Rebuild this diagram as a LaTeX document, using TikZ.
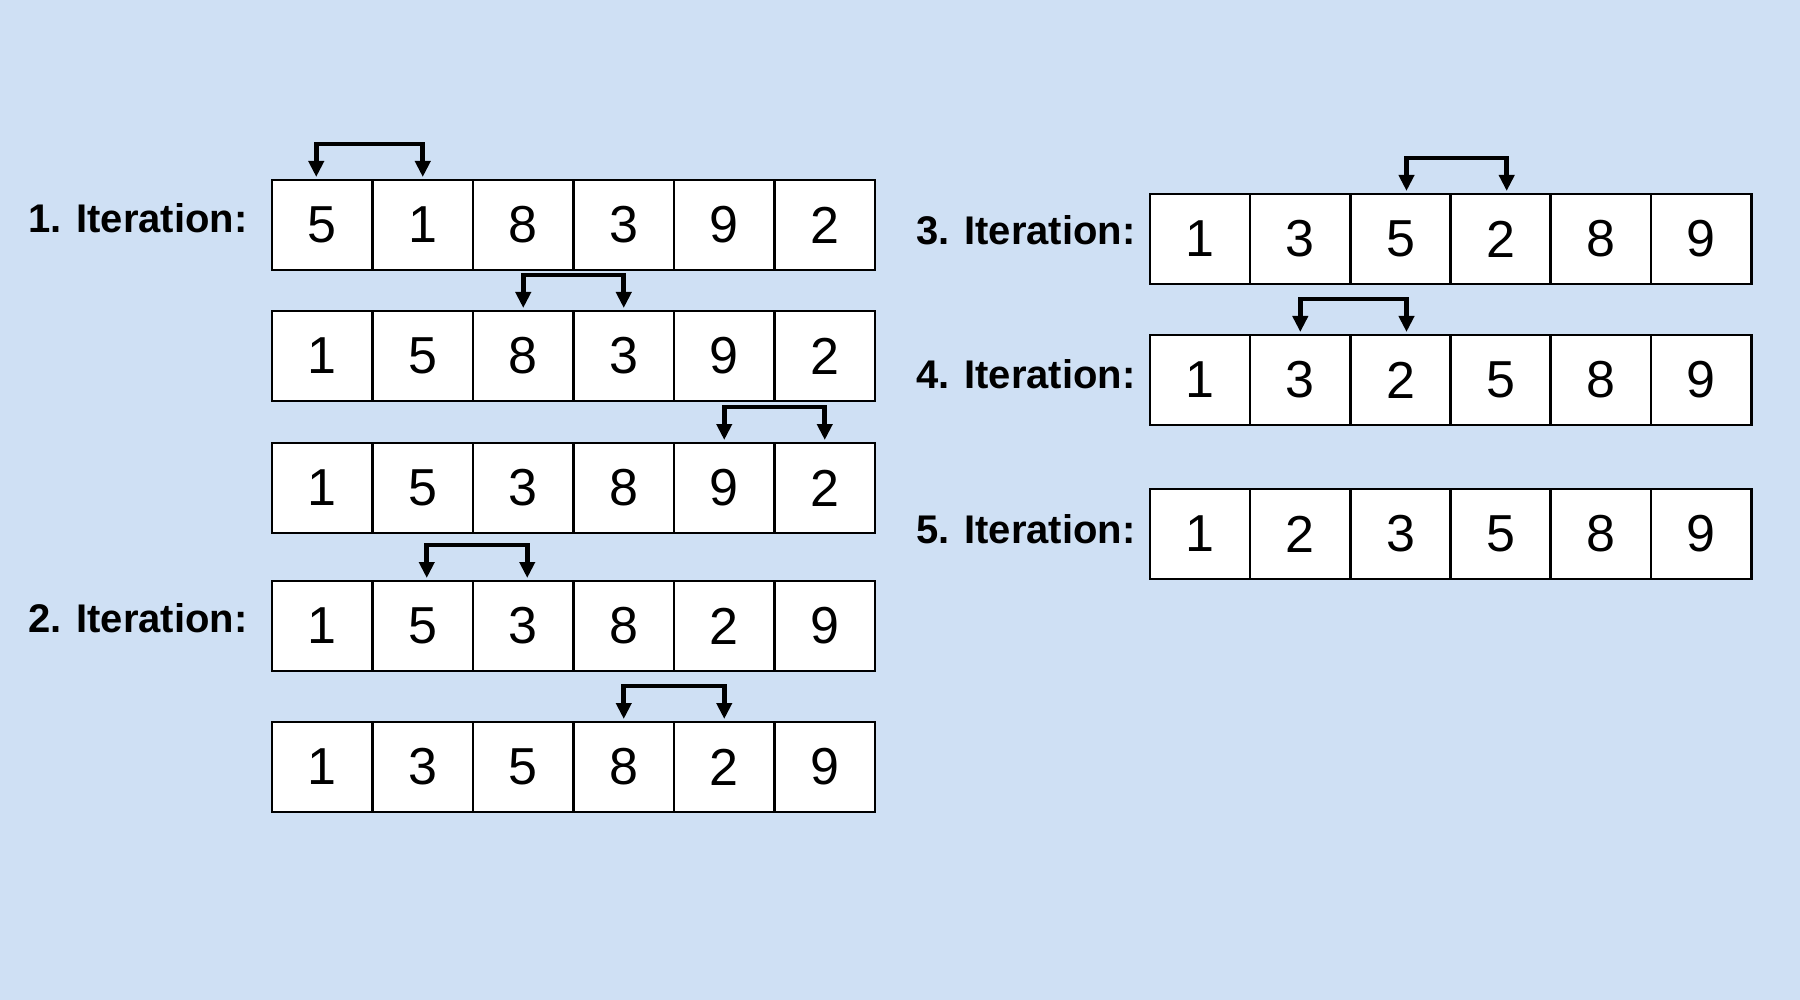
\documentclass[tikz,border=0pt]{standalone}
\usepackage{fontspec}
\setmainfont{Liberation Sans}
\usetikzlibrary{arrows.meta}
\definecolor{bg}{RGB}{207,224,244}
\begin{document}
\begin{tikzpicture}[x=1pt,y=-1pt,
  cell/.style={draw=black,line width=2.6pt,fill=white,minimum width=100.5pt,minimum height=90pt,inner sep=0pt,outer sep=0pt,font=\fontsize{52}{52}\selectfont},
  lbl/.style={anchor=west,font=\fontsize{40}{40}\selectfont\bfseries,inner sep=0pt},
  swaparrow/.style={{Triangle[width=15pt,length=16pt]}-{Triangle[width=15pt,length=16pt]},line width=4.6pt,line join=miter}]
\fill[bg] (0,0) rectangle (1800,1000);
\useasboundingbox (0,0) rectangle (1800,1000);
% left column
\foreach \v [count=\i] in {5,1,8,3,9,2} \node[cell] (r1c\i) at ({272+(\i-0.5)*100.5},225) {\v};
\foreach \v [count=\i] in {1,5,8,3,9,2} \node[cell] (r2c\i) at ({272+(\i-0.5)*100.5},356) {\v};
\foreach \v [count=\i] in {1,5,3,8,9,2} \node[cell] (r3c\i) at ({272+(\i-0.5)*100.5},488) {\v};
\foreach \v [count=\i] in {1,5,3,8,2,9} \node[cell] (r4c\i) at ({272+(\i-0.5)*100.5},626) {\v};
\foreach \v [count=\i] in {1,3,5,8,2,9} \node[cell] (r5c\i) at ({272+(\i-0.5)*100.5},767) {\v};
% right column
\foreach \v [count=\i] in {1,3,5,2,8,9} \node[cell] (r6c\i) at ({1150+(\i-0.5)*100.2},239) {\v};
\foreach \v [count=\i] in {1,3,2,5,8,9} \node[cell] (r7c\i) at ({1150+(\i-0.5)*100.2},380) {\v};
\foreach \v [count=\i] in {1,2,3,5,8,9} \node[cell] (r8c\i) at ({1150+(\i-0.5)*100.2},534) {\v};
% labels
\node[lbl] (l1) at (28,218) {1. Iteration:};
\node[lbl] (l2) at (28,618) {2. Iteration:};
\node[lbl] (l3) at (916,230) {3. Iteration:};
\node[lbl] (l4) at (916,374) {4. Iteration:};
\node[lbl] (l5) at (916,529) {5. Iteration:};
% swap arrows
\draw[swaparrow] ([xshift=-6pt,yshift=3pt]r1c1.north) -- ++(0,-33) -| ([yshift=3pt]r1c2.north);
\draw[swaparrow] ([yshift=3pt]r2c3.north) -- ++(0,-33) -| ([yshift=3pt]r2c4.north);
\draw[swaparrow] ([yshift=3pt]r3c5.north) -- ++(0,-33) -| ([yshift=3pt]r3c6.north);
\draw[swaparrow] ([xshift=4pt,yshift=3pt]r4c2.north) -- ++(0,-33) -| ([xshift=4pt,yshift=3pt]r4c3.north);
\draw[swaparrow] ([yshift=3pt]r5c4.north) -- ++(0,-33) -| ([yshift=3pt]r5c5.north);
\draw[swaparrow] ([xshift=6pt,yshift=3pt]r6c3.north) -- ++(0,-33) -| ([xshift=6pt,yshift=3pt]r6c4.north);
\draw[swaparrow] ([yshift=3pt]r7c2.north) -- ++(0,-33) -| ([xshift=6pt,yshift=3pt]r7c3.north);
\end{tikzpicture}
\end{document}
